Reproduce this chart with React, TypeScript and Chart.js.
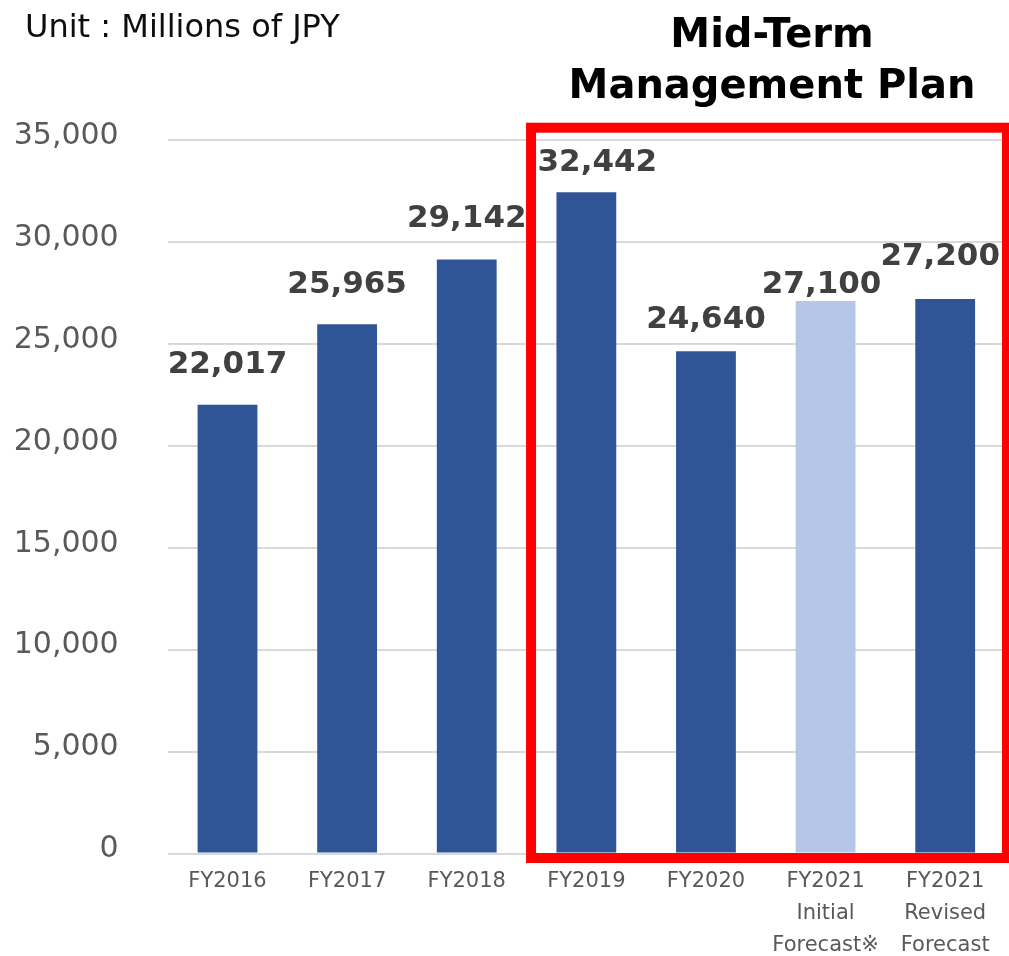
import React, { useEffect, useRef } from 'react';
import { Chart, registerables } from 'chart.js';

Chart.register(...registerables);

// ---- Data ----
const categories: string[][] = [
  ['FY2016'],
  ['FY2017'],
  ['FY2018'],
  ['FY2019'],
  ['FY2020'],
  ['FY2021', 'Initial', 'Forecast※'],
  ['FY2021', 'Revised', 'Forecast'],
];
const revenue: number[] = [22017, 25965, 29142, 32442, 24640, 27100, 27200];
const isInitialForecast: boolean[] = [false, false, false, false, false, true, false];
const yTickValues: number[] = [0, 5000, 10000, 15000, 20000, 25000, 30000, 35000];
const unitText = 'Unit : Millions of JPY';
const planTitle: string[] = ['Mid-Term', 'Management Plan'];
const planStartIndex = 3;

// ---- Styling (label nudges: [dx, gap above bar top]) ----
const labelNudges: number[][] = [
  [0, 32], [0, 31], [0, 32], [11, 21], [0, 23], [-4, 8], [-5, 34],
];
const DARK = '#2F5597';
const LIGHT = '#B4C7E7';
const FONT = '"DejaVu Sans", Verdana, sans-serif';

const valueLabelPlugin = {
  id: 'valueLabels',
  afterDatasetsDraw(chart: any) {
    const ctx = chart.ctx;
    const meta = chart.getDatasetMeta(0);
    ctx.save();
    ctx.font = `bold 31px ${FONT}`;
    ctx.fillStyle = '#404040';
    ctx.textAlign = 'center';
    ctx.textBaseline = 'alphabetic';
    meta.data.forEach((bar: any, i: number) => {
      const [dx, gap] = labelNudges[i];
      ctx.fillText(revenue[i].toLocaleString('en-US'), bar.x + dx, bar.y - gap);
    });
    ctx.restore();
  },
};

const annotationPlugin = {
  id: 'planBox',
  afterDraw(chart: any) {
    const ctx = chart.ctx;
    const xs = chart.scales.x;
    const ys = chart.scales.y;
    const left = (xs.getPixelForValue(planStartIndex - 1) + xs.getPixelForValue(planStartIndex)) / 2 + 4.5;
    const right = chart.chartArea.right + 2;
    const top = ys.getPixelForValue(35000) - 12.3;
    const bottom = ys.getPixelForValue(0) + 4.5;
    ctx.save();
    ctx.strokeStyle = '#FF0000';
    ctx.lineWidth = 10;
    ctx.strokeRect(left, top, right - left, bottom - top);

    const cx = (left + right) / 2 + 3;
    ctx.fillStyle = '#000000';
    ctx.textAlign = 'center';
    ctx.textBaseline = 'alphabetic';
    ctx.font = `bold 40px ${FONT}`;
    ctx.fillText(planTitle[0], cx, 47);
    ctx.fillText(planTitle[1], cx, 98);

    ctx.textAlign = 'left';
    ctx.font = `32px ${FONT}`;
    ctx.fillStyle = '#0d0d0d';
    ctx.fillText(unitText, 25, 37);
    ctx.restore();
  },
};

export default function App() {
  const canvasRef = useRef<HTMLCanvasElement | null>(null);

  useEffect(() => {
    if (!canvasRef.current) return;
    const chart = new Chart(canvasRef.current, {
      type: 'bar',
      data: {
        labels: categories,
        datasets: [
          {
            data: revenue,
            backgroundColor: revenue.map((_, i) => (isInitialForecast[i] ? LIGHT : DARK)),
            borderWidth: 0,
            barPercentage: 0.5,
            categoryPercentage: 1,
          },
        ],
      },
      options: {
        animation: false,
        responsive: false,
        devicePixelRatio: 1,
        layout: { padding: { top: 140, right: 4, left: 0, bottom: 0 } },
        plugins: {
          legend: { display: false },
          tooltip: { enabled: false },
          title: { display: false },
        },
        scales: {
          x: {
            grid: { display: false, drawTicks: false },
            border: { display: false },
            ticks: {
              color: '#595959',
              font: { family: FONT, size: 21, lineHeight: 1.52 },
              padding: 12,
              maxRotation: 0,
              autoSkip: false,
            },
            afterFit: (s: any) => {
              s.height = 102.5;
            },
          },
          y: {
            min: 0,
            max: 35000,
            afterBuildTicks: (s: any) => {
              s.ticks = yTickValues.map((v) => ({ value: v }));
            },
            grid: { color: '#D9D9D9', lineWidth: 2, drawTicks: false },
            border: { display: false },
            ticks: {
              color: '#595959',
              font: { family: FONT, size: 30 },
              padding: 49,
              labelOffset: -4,
              callback: (v: any) => Number(v).toLocaleString('en-US'),
            },
            afterFit: (s: any) => {
              s.width = 167.7;
            },
          },
        },
      },
      plugins: [valueLabelPlugin, annotationPlugin],
    });
    return () => chart.destroy();
  }, []);

  return (
    <div style={{ position: 'absolute', left: 0, top: 0, width: 1009, height: 956, background: '#fff' }}>
      <canvas ref={canvasRef} width={1009} height={956} />
    </div>
  );
}
